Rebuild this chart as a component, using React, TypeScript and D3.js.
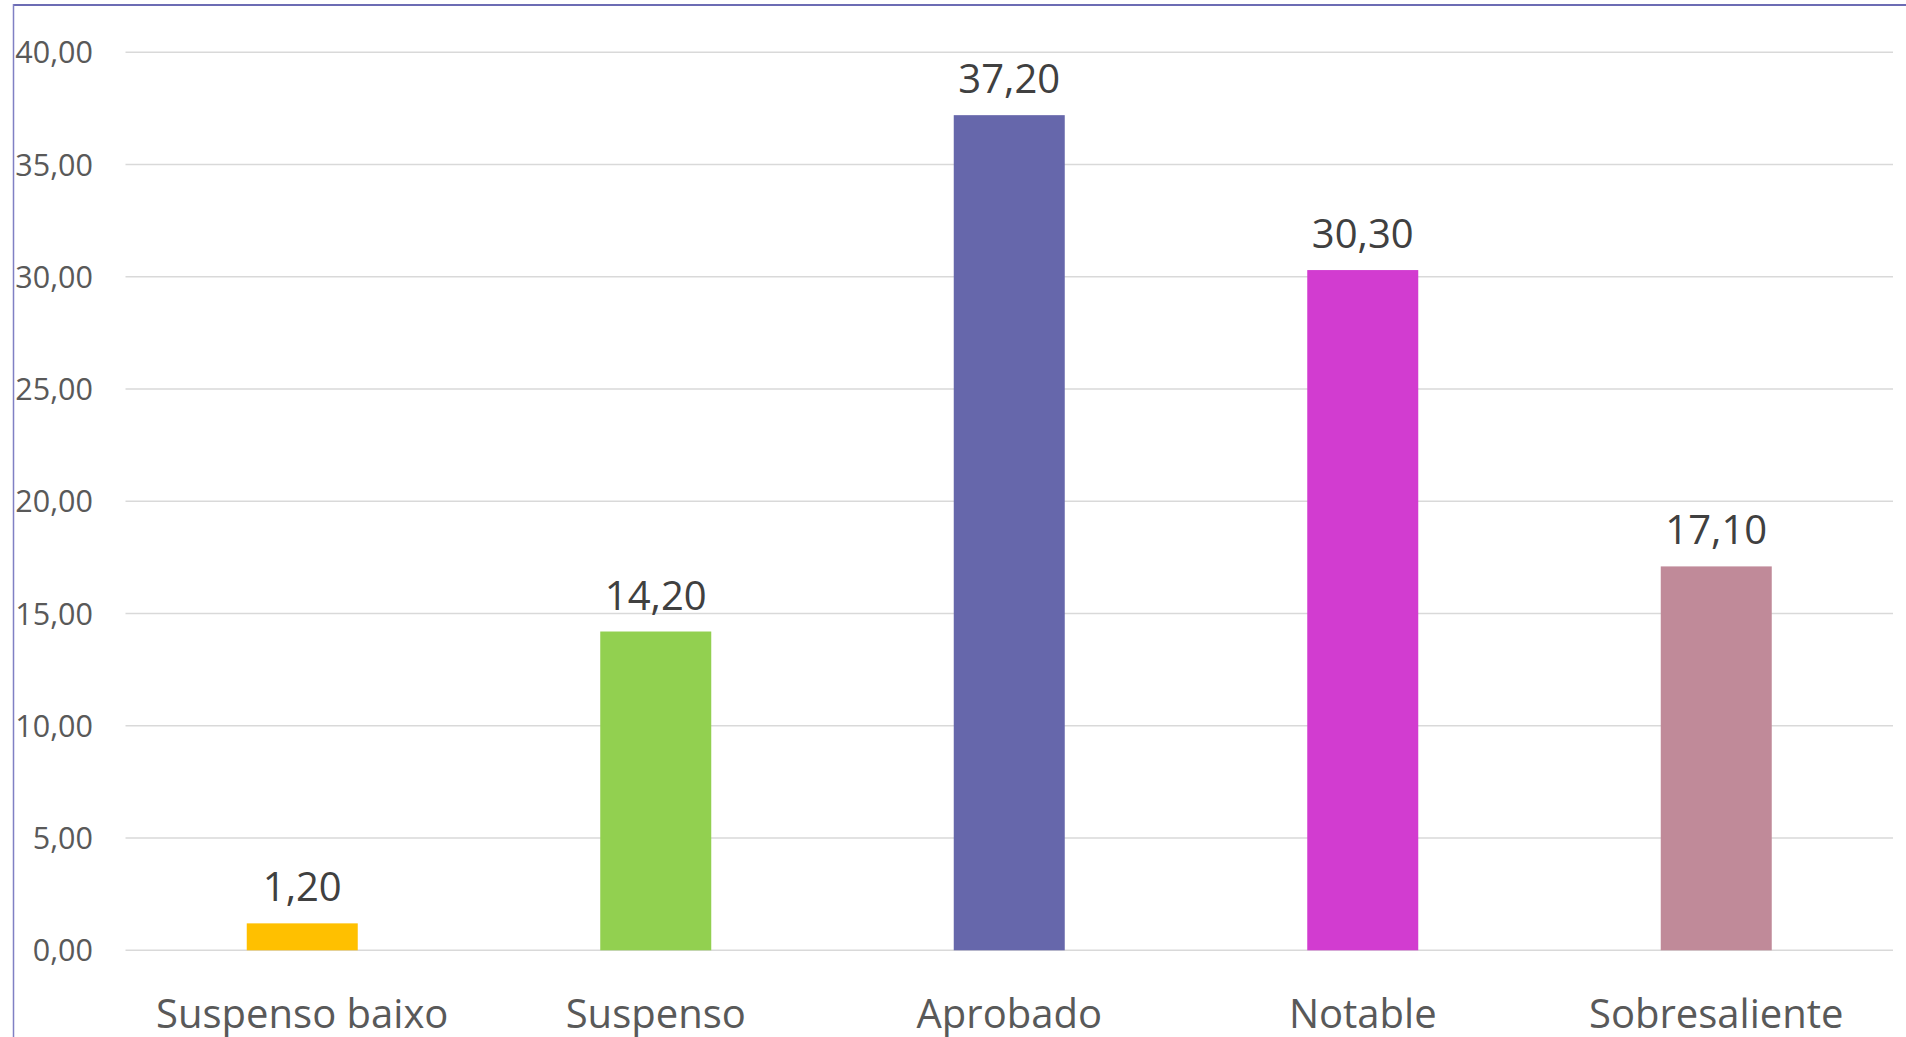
import React from "react";
import * as d3 from "d3";

const categories = ["Suspenso baixo", "Suspenso", "Aprobado", "Notable", "Sobresaliente"];
const values = [1.2, 14.2, 37.2, 30.3, 17.1];
const colors = ["#FFC000", "#92D050", "#6667AB", "#D23CD0", "#C08A99"];
const yTicks = [0, 5, 10, 15, 20, 25, 30, 35, 40];

const W = 1906;
const H = 1037;
const FONT = "'Open Sans', 'Noto Sans', sans-serif";

const fmt = (v: number) => v.toFixed(2).replace(".", ",");

export default function App() {
  const x = d3.scaleBand<string>().domain(categories).range([125.5, 1893]).padding(0);
  const y = d3.scaleLinear().domain([0, 40]).range([950.3, 52.3]);
  const barW = x.bandwidth() * 0.314;

  return (
    <svg
      width={W}
      height={H}
      style={{ position: "fixed", top: 0, left: 0, background: "#fff" }}
      fontFamily={FONT}
    >
      <rect x={0} y={0} width={W} height={H} fill="#fff" />
      {/* border */}
      <line x1={13.5} x2={W} y1={5} y2={5} stroke="#6c6cb4" strokeWidth={2} />
      <line x1={13.5} x2={13.5} y1={4} y2={H} stroke="#8080c4" strokeWidth={1.5} />

      {/* gridlines */}
      {yTicks.map((t) => (
        <line
          key={t}
          x1={x.range()[0]}
          x2={x.range()[1]}
          y1={y(t)}
          y2={y(t)}
          stroke="#d9d9d9"
          strokeWidth={1.5}
        />
      ))}
      {/* y tick labels */}
      {yTicks.map((t) => (
        <text
          key={"l" + t}
          x={93}
          y={y(t) + 11}
          textAnchor="end"
          fontSize={30.5}
          fill="#595959"
        >
          {fmt(t)}
        </text>
      ))}

      {/* bars */}
      {categories.map((c, i) => {
        const cx = (x(c) as number) + x.bandwidth() / 2;
        return (
          <g key={c}>
            <rect
              x={cx - barW / 2}
              y={y(values[i])}
              width={barW}
              height={y(0) - y(values[i])}
              fill={colors[i]}
            />
            <text
              x={cx}
              y={y(values[i]) - 22}
              textAnchor="middle"
              fontSize={40}
              fill="#404040"
            >
              {fmt(values[i])}
            </text>
            <text x={cx} y={1028} textAnchor="middle" fontSize={40} fill="#595959">
              {c}
            </text>
          </g>
        );
      })}
    </svg>
  );
}
